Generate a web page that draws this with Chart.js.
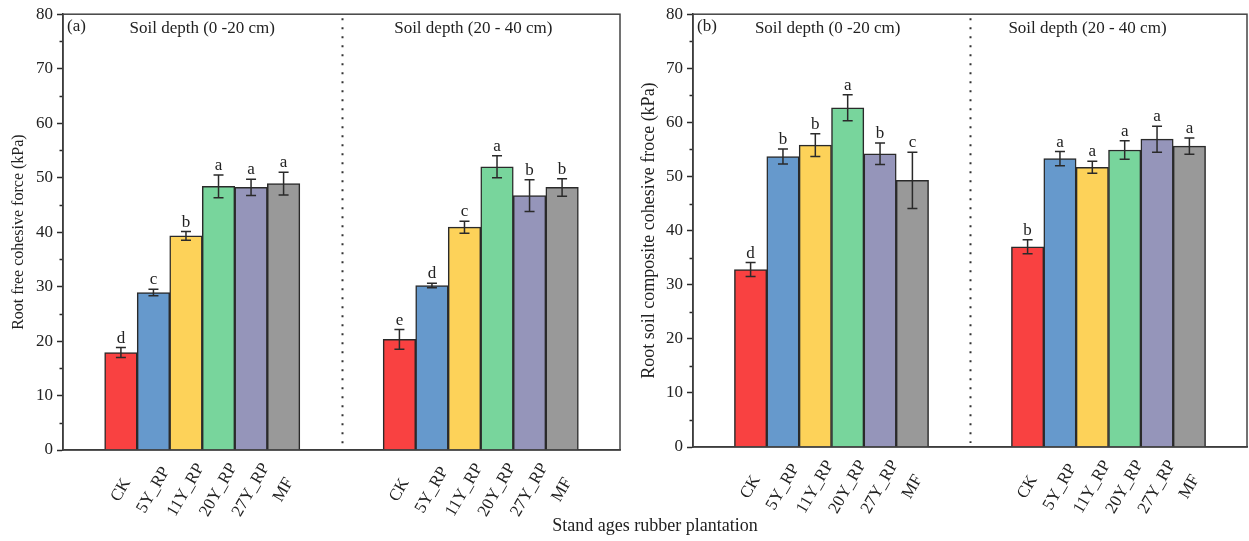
<!DOCTYPE html>
<html lang="en">
<head>
  <meta charset="UTF-8">
  <title>Root cohesive force by stand age</title>
  <script src="https://cdn.jsdelivr.net/npm/chart.js@4.4.0/dist/chart.umd.min.js"></script>
  <style>
    body {
      margin: 0;
      background: #fff;
      font-family: "Liberation Serif", "Times New Roman", serif;
    }
    #wrap {
      position: relative;
      width: 1249px;
      height: 541px;
    }
    .panel {
      position: absolute;
      top: 0;
      height: 541px;
    }
    #pa { left: 0; width: 625px; }
    #pb { left: 625px; width: 624px; }
    #xtitle {
      position: absolute;
      left: 455px;
      width: 400px;
      top: 515px;
      text-align: center;
      font-size: 18px;
      color: #222;
    }
  </style>
</head>
<body>
  <div id="wrap">
    <div class="panel" id="pa"><canvas id="chartA"></canvas></div>
    <div class="panel" id="pb"><canvas id="chartB"></canvas></div>
    <div id="xtitle">Stand ages rubber plantation</div>
  </div>

  <script>
    const stands = ['CK', '5Y_RP', '11Y_RP', '20Y_RP', '27Y_RP', 'MF'];
    const depths = ['Soil depth (0 -20 cm)', 'Soil depth (20 - 40 cm)'];
    const yTicks = [0, 10, 20, 30, 40, 50, 60, 70, 80];

    // (a) root free cohesive force, kPa
    const freeTop = [17.9, 28.9, 39.3, 48.4, 48.2, 48.9];
    const freeTopErr = [0.9, 0.6, 0.8, 2.1, 1.5, 2.1];
    const freeTopSig = ['d', 'c', 'b', 'a', 'a', 'a'];
    const freeSub = [20.3, 30.2, 40.9, 52.0, 46.7, 48.2];
    const freeSubErr = [1.8, 0.4, 1.1, 2.0, 2.9, 1.6];
    const freeSubSig = ['e', 'd', 'c', 'a', 'b', 'b'];

    // (b) root soil composite cohesive force, kPa
    const compTop = [32.8, 53.7, 55.8, 62.7, 54.2, 49.3];
    const compTopErr = [1.3, 1.4, 2.1, 2.4, 2.0, 5.2];
    const compTopSig = ['d', 'b', 'b', 'a', 'b', 'c'];
    const compSub = [37.0, 53.3, 51.7, 54.9, 56.9, 55.6];
    const compSubErr = [1.3, 1.3, 1.1, 1.7, 2.4, 1.5];
    const compSubSig = ['b', 'a', 'a', 'a', 'a', 'a'];

    const colors = ['#F94141', '#6699CC', '#FDD259', '#78D59C', '#9595BA', '#999999'];
    const ink = '#2a2a2a';
    const serif = '"Liberation Serif", "Times New Roman", serif';

    // bar slots on a linear x axis: side margin, six bars, gap, six bars, side margin
    const SIDE = 1.28, GAP = 2.56;
    const n = stands.length;
    const SPAN = 2 * SIDE + 2 * n + GAP;
    const slot = (g, i) => SIDE + 0.5 + i + g * (n + GAP);
    const centers = [0, 1].flatMap(g => stands.map((s, i) => slot(g, i)));

    const decor = {
      id: 'decor',
      afterDatasetsDraw(chart, args, o) {
        const { ctx, chartArea: a, scales: { x, y } } = chart;
        const bars = chart.getDatasetMeta(0).data;
        ctx.save();

        // minor ticks
        ctx.strokeStyle = ink;
        ctx.lineWidth = 1.5;
        for (let v = 5; v < 80; v += 10) {
          const py = Math.round(y.getPixelForValue(v)) + 0.5;
          ctx.beginPath();
          ctx.moveTo(a.left - 3.5, py);
          ctx.lineTo(a.left, py);
          ctx.stroke();
        }

        // error bars and letters
        ctx.font = '17px ' + serif;
        ctx.fillStyle = '#222';
        ctx.textAlign = 'center';
        ctx.textBaseline = 'alphabetic';
        bars.forEach((bar, k) => {
          const v = o.values[k], e = o.errors[k];
          const yt = y.getPixelForValue(v + e);
          const yb = y.getPixelForValue(v - e);
          ctx.beginPath();
          ctx.moveTo(bar.x, yt); ctx.lineTo(bar.x, yb);
          ctx.moveTo(bar.x - 5, yt); ctx.lineTo(bar.x + 5, yt);
          ctx.moveTo(bar.x - 5, yb); ctx.lineTo(bar.x + 5, yb);
          ctx.stroke();
          ctx.fillText(o.letters[k], bar.x, yt - 5);
        });

        // frame
        ctx.strokeStyle = '#444';
        ctx.lineWidth = 1.5;
        ctx.strokeRect(a.left, a.top, a.right - a.left, a.bottom - a.top);

        // dotted divider between depths
        const dx = Math.round(x.getPixelForValue(SIDE + n + GAP / 2)) + 0.5;
        ctx.strokeStyle = '#333';
        ctx.lineWidth = 2;
        ctx.setLineDash([2, 7]);
        ctx.beginPath();
        ctx.moveTo(dx, a.top + 4);
        ctx.lineTo(dx, a.bottom - 4);
        ctx.stroke();
        ctx.setLineDash([]);

        // panel tag and depth titles
        ctx.textAlign = 'left';
        ctx.fillText(o.tag, a.left + 4, a.top + 17);
        ctx.textAlign = 'center';
        depths.forEach((d, g) => {
          const cx = x.getPixelForValue(slot(g, 0) - 0.5 + n / 2 + o.titleShift[g]);
          ctx.fillText(d, cx, a.top + 19);
        });

        // rotated stand labels, centred under each bar
        ctx.textBaseline = 'middle';
        bars.forEach((bar, k) => {
          ctx.save();
          ctx.translate(bar.x, a.bottom + 40);
          ctx.rotate(-Math.PI / 3);
          ctx.fillText(stands[k % n], 0, 0);
          ctx.restore();
        });
        ctx.restore();
      }
    };

    function makePanel(id, opt) {
      const values = opt.top.concat(opt.sub);
      const points = values.map((v, k) => ({ x: centers[k], y: v }));
      return new Chart(document.getElementById(id), {
        type: 'bar',
        data: {
          datasets: [{
            data: points,
            backgroundColor: colors.concat(colors),
            borderColor: ink,
            borderWidth: 1.5,
            barPercentage: 1,
            categoryPercentage: 1
          }]
        },
        plugins: [decor],
        options: {
          responsive: true,
          maintainAspectRatio: false,
          animation: false,
          layout: { padding: opt.padding },
          plugins: {
            legend: { display: false },
            tooltip: { enabled: false },
            decor: {
              values: values,
              errors: opt.topErr.concat(opt.subErr),
              letters: opt.topSig.concat(opt.subSig),
              tag: opt.tag,
              titleShift: opt.titleShift
            }
          },
          scales: {
            x: {
              type: 'linear',
              min: 0,
              max: SPAN,
              offset: false,
              afterBuildTicks: s => { s.ticks = centers.map(c => ({ value: c })); },
              afterFit: s => { s.height = opt.xHeight; },
              grid: { display: false, drawTicks: false, offset: false },
              border: { color: ink, width: 1.5 },
              ticks: { display: false }
            },
            y: {
              min: 0,
              max: 80,
              afterBuildTicks: s => { s.ticks = yTicks.map(v => ({ value: v })); },
              afterFit: s => { s.width = opt.yWidth; },
              grid: {
                drawOnChartArea: false,
                tickLength: 6,
                tickColor: ink,
                tickWidth: 1.5
              },
              border: { color: ink, width: 1.5 },
              ticks: {
                padding: 4,
                color: '#222',
                font: { family: serif, size: 17 }
              },
              title: {
                display: true,
                text: opt.yTitle,
                color: '#222',
                font: { family: serif, size: opt.yTitleSize },
                padding: { top: opt.yTitlePad, bottom: 0 }
              }
            }
          }
        }
      });
    }

    makePanel('chartA', {
      top: freeTop, topErr: freeTopErr, topSig: freeTopSig,
      sub: freeSub, subErr: freeSubErr, subSig: freeSubSig,
      tag: '(a)',
      yTitle: 'Root free cohesive force (kPa)',
      yTitleSize: 16,
      yTitlePad: 9,
      titleShift: [0, -0.23],
      padding: { left: 0, right: 5, top: 13, bottom: 0 },
      yWidth: 63,
      xHeight: 91
    });

    makePanel('chartB', {
      top: compTop, topErr: compTopErr, topSig: compTopSig,
      sub: compSub, subErr: compSubErr, subSig: compSubSig,
      tag: '(b)',
      yTitle: 'Root soil composite cohesive froce (kPa)',
      yTitleSize: 18,
      yTitlePad: 13,
      titleShift: [-0.12, -0.65],
      padding: { left: 0, right: 2, top: 12, bottom: 0 },
      yWidth: 68,
      xHeight: 94
    });
  </script>
</body>
</html>
